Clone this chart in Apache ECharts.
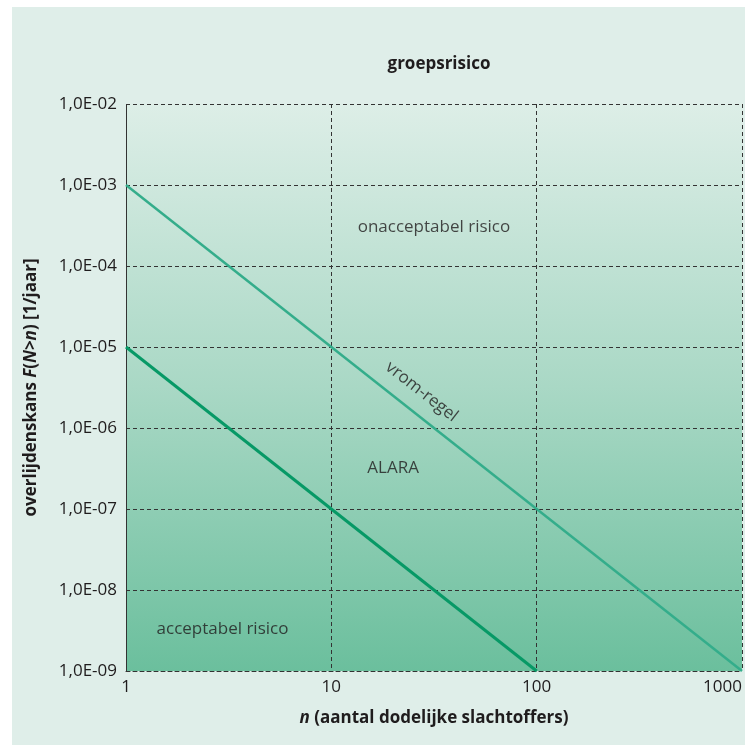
<!DOCTYPE html>
<html>
<head>
<meta charset="utf-8">
<script src="https://cdn.jsdelivr.net/npm/echarts@6/dist/echarts.min.js"></script>
<style>
  html, body { margin: 0; padding: 0; background: #ffffff; }
  #chart { width: 745px; height: 745px; }
</style>
</head>
<body>
<div id="chart"></div>
<script>
// n values on the x axis and tick labels
var xTicks = [1, 10, 100, 1000];
var yTickLabels = ['1,0E-09', '1,0E-08', '1,0E-07', '1,0E-06', '1,0E-05', '1,0E-04', '1,0E-03', '1,0E-02'];

// vrom-regel (upper limit) and lower limit line, [n, F]
var vromLine = [[1, 1e-3], [1000, 1e-9]];
var lowerLine = [[1, 1e-5], [100, 1e-9]];

// area labels, [n, F, text]
var areaLabels = [
    [31.6, 3.0e-4, 'onacceptabel risico'],
    [20, 3.2e-7, 'ALARA'],
    [2.95, 3.3e-9, 'acceptabel risico']
];
var vromLabel = [[27.5, 2.8e-6, 'vrom-regel']];

var font = '"Open Sans", "Noto Sans", sans-serif';
var txt = '#1f1c1d';
var chart = echarts.init(document.getElementById('chart'));

var option = {
    backgroundColor: '#ffffff',
    animation: false,
    graphic: [
        {
            type: 'rect',
            z: -10,
            shape: { x: 12, y: 7, width: 733, height: 738 },
            style: { fill: '#dfeee9' }
        }
    ],
    title: {
        text: 'groepsrisico',
        left: 434,
        textAlign: 'center',
        top: 51,
        textStyle: {
            fontFamily: font,
            fontSize: 17,
            fontWeight: 'bold',
            color: txt
        }
    },
    grid: {
        left: 126,
        top: 104,
        right: 2,
        bottom: 74,
        show: true,
        borderWidth: 0,
        backgroundColor: new echarts.graphic.LinearGradient(0, 0, 0, 1, [
            { offset: 0, color: '#ddeee7' },
            { offset: 0.5, color: '#a9d8c5' },
            { offset: 1, color: '#6bbf9d' }
        ])
    },
    xAxis: {
        type: 'log',
        logBase: 10,
        min: 1,
        max: 1000,
        name: '{i|n} (aantal dodelijke slachtoffers)',
        nameLocation: 'middle',
        nameGap: 39,
        nameTextStyle: {
            fontFamily: font,
            fontSize: 17,
            fontWeight: 'bold',
            color: txt,
            rich: {
                i: { fontFamily: font, fontSize: 17, fontWeight: 'bold', fontStyle: 'italic', color: txt }
            }
        },
        axisLine: { show: true, lineStyle: { color: '#333', type: [4, 3], width: 1 } },
        axisTick: { show: false },
        axisLabel: {
            fontFamily: font,
            fontSize: 17,
            color: txt,
            margin: 8,
            alignMaxLabel: 'right',
            formatter: function (v) {
                var i = xTicks.indexOf(Math.round(v));
                return i >= 0 ? String(xTicks[i]) : '';
            }
        },
        splitLine: { show: true, lineStyle: { color: '#333', type: [4, 3], width: 1 } }
    },
    yAxis: {
        type: 'log',
        logBase: 10,
        min: 1e-9,
        max: 1e-2,
        interval: 1,
        name: 'overlijdenskans {i|F}({i|N}>{i|n}) [1/jaar]',
        nameLocation: 'middle',
        nameGap: 86,
        nameTextStyle: {
            fontFamily: font,
            fontSize: 17,
            fontWeight: 'bold',
            color: txt,
            rich: {
                i: { fontFamily: font, fontSize: 17, fontWeight: 'bold', fontStyle: 'italic', color: txt }
            }
        },
        axisLine: { show: true, lineStyle: { color: '#333', type: [4, 3], width: 1 } },
        axisTick: { show: false },
        axisLabel: {
            fontFamily: font,
            fontSize: 17,
            color: txt,
            margin: 9,
            formatter: function (v) {
                var e = Math.round(Math.log10(v)) + 9;
                return yTickLabels[e] || '';
            }
        },
        splitLine: { show: true, lineStyle: { color: '#333', type: [4, 3], width: 1 } }
    },
    series: [
        {
            name: 'vrom-regel',
            type: 'line',
            symbol: 'none',
            data: vromLine,
            lineStyle: { color: '#34ad8b', width: 2.5 },
            z: 3
        },
        {
            name: 'ondergrens',
            type: 'line',
            symbol: 'none',
            data: lowerLine,
            lineStyle: { color: '#079966', width: 3 },
            z: 3
        },
        {
            type: 'scatter',
            symbolSize: 0,
            data: areaLabels,
            silent: true,
            label: {
                show: true,
                position: 'inside',
                formatter: function (p) { return p.value[2]; },
                fontFamily: font,
                fontSize: 17,
                color: txt
            }
        },
        {
            type: 'scatter',
            symbolSize: 0,
            data: vromLabel,
            silent: true,
            label: {
                show: true,
                position: 'inside',
                rotate: -38,
                formatter: function (p) { return p.value[2]; },
                fontFamily: font,
                fontSize: 17,
                color: txt
            }
        }
    ]
};
chart.setOption(option);
</script>
</body>
</html>
